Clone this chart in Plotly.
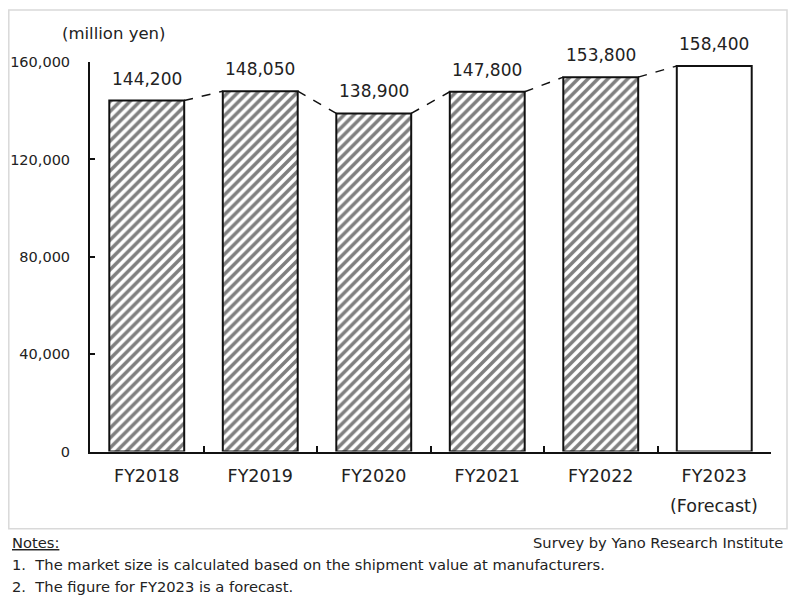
import plotly.graph_objects as go

categories = ["FY2018", "FY2019", "FY2020", "FY2021", "FY2022", "FY2023"]
values = [144200, 148050, 138900, 147800, 153800, 158400]
is_forecast = [False, False, False, False, False, True]
y_ticks = [0, 40000, 80000, 120000, 160000]
y_ticklabels = ["0", "40,000", "80,000", "120,000", "160,000"]

W, H = 788, 600
FONT = "DejaVu Sans"
TXT = "#222222"
BAR_W = 0.66

# map target picture pixels to paper fractions (page offset / scale)
X_OFF = 8
Y_OFF, Y_S = 16, 0.972


def px(x):
    return (x - X_OFF) / W


def py(y):
    return 1 - ((y - Y_OFF) / Y_S) / H


fig = go.Figure()

fig.add_trace(go.Bar(
    x=categories,
    y=values,
    width=BAR_W,
    marker=dict(
        color="white",
        line=dict(color="#111111", width=2),
        pattern=dict(
            shape=["" if f else "/" for f in is_forecast],
            fgcolor="#000000",
            bgcolor="white",
            size=7,
            solidity=0.5,
            fillmode="overlay",
        ),
    ),
    hoverinfo="skip",
    showlegend=False,
))

# dashed connectors between bar tops (numeric overlay axis)
cx, cy = [], []
for i in range(len(values) - 1):
    cx += [i + BAR_W / 2, i + 1 - BAR_W / 2, None]
    cy += [values[i], values[i + 1], None]
fig.add_trace(go.Scatter(
    x=cx, y=cy, xaxis="x2", yaxis="y",
    mode="lines",
    line=dict(color="#111111", width=1.5, dash="dash"),
    hoverinfo="skip", showlegend=False,
))

x0, x1 = px(90), px(771)
y0, y1 = py(451), py(62)

fig.update_layout(
    width=W, height=H,
    margin=dict(l=0, r=0, t=0, b=0),
    paper_bgcolor="white", plot_bgcolor="white",
    font=dict(family=FONT, color=TXT),
    bargap=1 - BAR_W,
    xaxis=dict(
        domain=[x0, x1],
        type="category",
        tickson="boundaries",
        ticks="inside", ticklen=6, tickwidth=1.5, tickcolor="#111111",
        showline=True, linecolor="#111111", linewidth=2,
        showgrid=False, zeroline=False,
        tickfont=dict(size=17.5, color=TXT, family=FONT),
        ticklabelstandoff=7,
        range=[-0.5, len(categories) - 0.5],
    ),
    xaxis2=dict(
        domain=[x0, x1],
        overlaying="x", anchor="y",
        range=[-0.5, len(categories) - 0.5],
        visible=False,
    ),
    yaxis=dict(
        domain=[y0, y1],
        range=[0, 160000],
        tickvals=y_ticks, ticktext=y_ticklabels,
        ticks="inside", ticklen=5, tickwidth=1.5, tickcolor="#111111",
        showline=True, linecolor="#111111", linewidth=2,
        showgrid=False, zeroline=False,
        tickfont=dict(size=14.5, color=TXT, family=FONT),
        ticklabelstandoff=15,
    ),
)

# value labels
for i, v in enumerate(values):
    fig.add_annotation(
        x=i, y=v, xref="x2", yref="y",
        text=f"{v:,}", showarrow=False,
        yanchor="bottom", yshift=10,
        font=dict(size=17, color=TXT, family=FONT),
    )

# "(Forecast)" second line under FY2023
for i, f in enumerate(is_forecast):
    if f:
        fig.add_annotation(
            x=i, y=py(505), xref="x2", yref="paper",
            text="(Forecast)", showarrow=False,
            yanchor="middle",
            font=dict(size=17.5, color=TXT, family=FONT),
        )

# unit label
fig.add_annotation(
    x=px(114), y=py(33), xref="paper", yref="paper",
    text="(million yen)", showarrow=False,
    xanchor="center", yanchor="middle",
    font=dict(size=16.5, color=TXT, family=FONT),
)

# outer border
fig.add_shape(
    type="rect", xref="paper", yref="paper",
    x0=px(8.8), x1=px(787), y0=py(528), y1=py(10),
    line=dict(color="#d9d9d9", width=1.5), fillcolor="rgba(0,0,0,0)",
    layer="below",
)

# notes
NOTE_SIZE = 14.7
fig.add_annotation(
    x=px(10), y=py(542), xref="paper", yref="paper",
    text="<u>Notes:</u>", showarrow=False,
    xanchor="left", yanchor="middle",
    font=dict(size=NOTE_SIZE, color=TXT, family=FONT),
)
fig.add_annotation(
    x=px(785), y=py(542), xref="paper", yref="paper",
    text="Survey by Yano Research Institute", showarrow=False,
    xanchor="right", yanchor="middle",
    font=dict(size=NOTE_SIZE, color=TXT, family=FONT),
)
notes = [
    "1.  The market size is calculated based on the shipment value at manufacturers.",
    "2.  The figure for FY2023 is a forecast.",
]
for k, n in enumerate(notes):
    fig.add_annotation(
        x=px(10), y=py(564 + 22 * k), xref="paper", yref="paper",
        text=n, showarrow=False,
        xanchor="left", yanchor="middle",
        font=dict(size=NOTE_SIZE, color=TXT, family=FONT),
    )

fig.write_html("out.html")
